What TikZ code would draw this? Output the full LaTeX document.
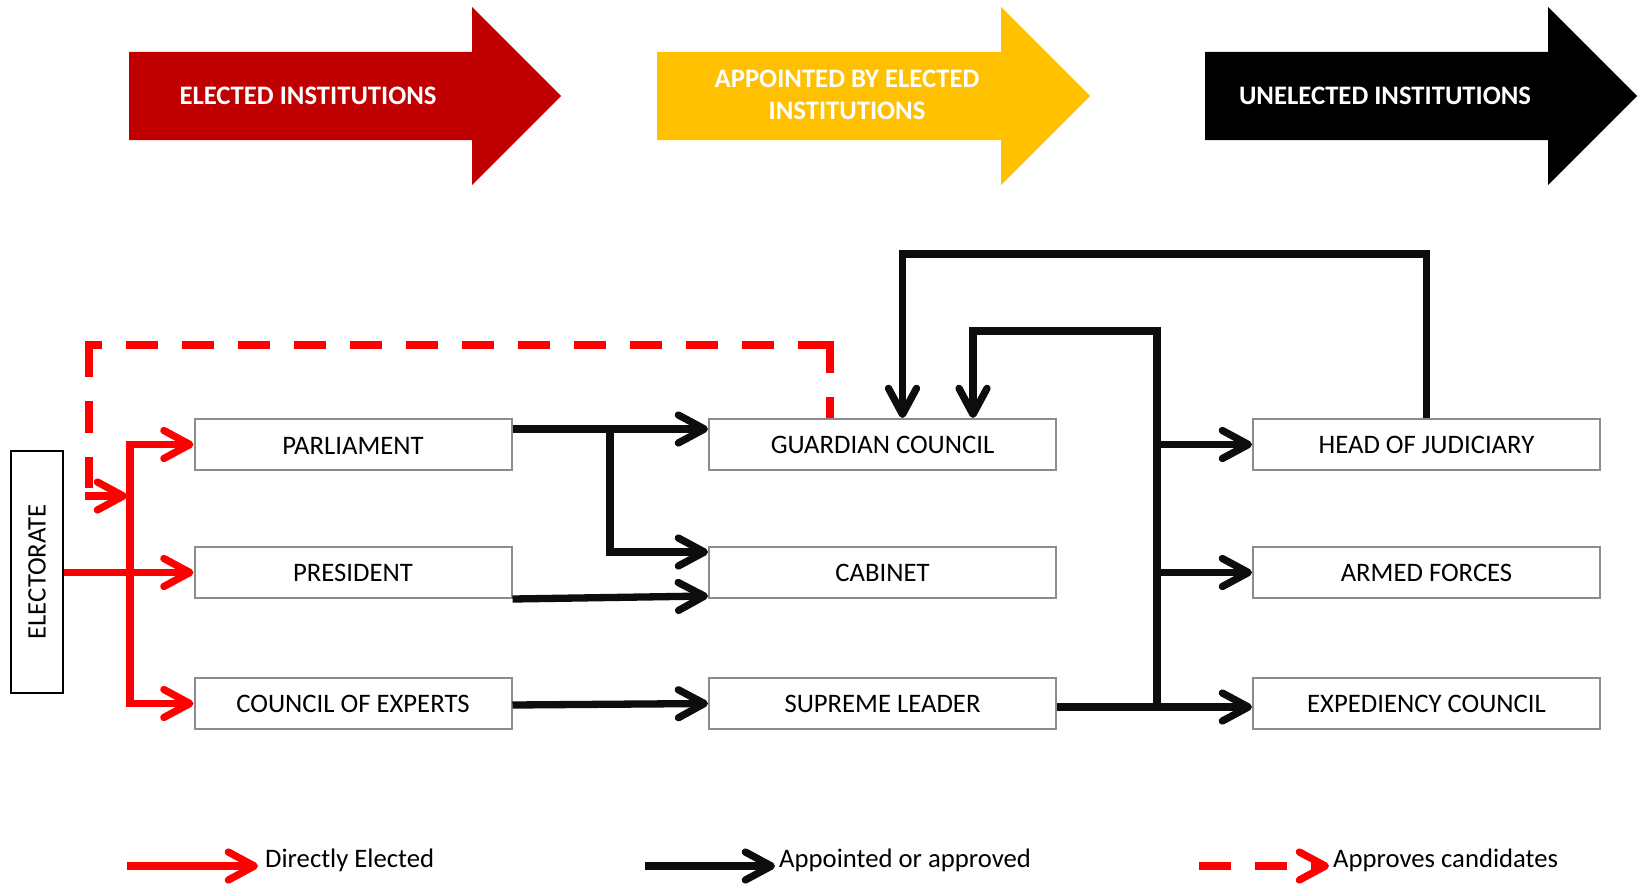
\documentclass[tikz,border=0pt]{standalone}
\usepackage{fontspec}
\setmainfont{Carlito}
\usetikzlibrary{arrows.meta}
\definecolor{hdred}{HTML}{C00000}
\definecolor{hdyel}{HTML}{FFC000}
\definecolor{boxgray}{HTML}{8C8C8C}
\definecolor{lnblack}{HTML}{0D0D0D}
\definecolor{lnred}{HTML}{FF0000}
\newcommand\lblfont{\fontsize{26.7}{31.5}\selectfont}
\begin{document}
\begin{tikzpicture}[x=1pt,y=-1pt,
  arr/.tip={Straight Barb[length=26pt,width=28pt,round]},
  inst/.style={draw=boxgray,line width=2pt,fill=white,minimum width=317pt,minimum height=51pt,inner sep=0pt,text height=19pt,font=\lblfont},
  instw/.style={inst,minimum width=347pt},
  hdtxt/.style={text=white,font=\lblfont\bfseries,inner sep=0pt,align=center},
  rl/.style={draw=lnred,line width=7.3pt},
  rdash/.style={rl,dash pattern=on 32pt off 24pt},
  bl/.style={draw=lnblack,line width=7.3pt},
  legtxt/.style={anchor=base west,inner sep=0pt,font=\lblfont}]
\useasboundingbox (0,0) rectangle (1640,883);
\fill[white] (0,0) rectangle (1640,883);

% header arrows
\fill[hdred] (129,52) -- (472,52) -- (472,7) -- (561,96) -- (472,185) -- (472,140) -- (129,140) -- cycle;
\node[hdtxt] (h1) at (308,96) {ELECTED INSTITUTIONS};
\fill[hdyel] (657,52) -- (1001,52) -- (1001,7) -- (1090,96) -- (1001,185) -- (1001,140) -- (657,140) -- cycle;
\node[hdtxt] (h2) at (847,95) {APPOINTED BY ELECTED\\INSTITUTIONS};
\fill[black] (1205,52) -- (1548,52) -- (1548,7) -- (1637,96) -- (1548,185) -- (1548,140) -- (1205,140) -- cycle;
\node[hdtxt] (h3) at (1385,96) {UNELECTED INSTITUTIONS};

% institutions
\node[inst] (parl) at (353,444.5) {PARLIAMENT};
\node[inst] (pres) at (353,572.5) {PRESIDENT};
\node[inst] (coe) at (353,703.5) {COUNCIL OF EXPERTS};
\node[instw] (gc) at (882.5,444.5) {GUARDIAN COUNCIL};
\node[instw] (cab) at (882.5,572.5) {CABINET};
\node[instw] (sl) at (882.5,703.5) {SUPREME LEADER};
\node[instw] (hj) at (1426.5,444.5) {HEAD OF JUDICIARY};
\node[instw] (af) at (1426.5,572.5) {ARMED FORCES};
\node[instw] (ec) at (1426.5,703.5) {EXPEDIENCY COUNCIL};
\node[draw=black,line width=2pt,rotate=90,minimum width=242pt,minimum height=51.7pt,inner sep=0pt,font=\lblfont] (elec) at (37,571.7) {ELECTORATE};

% red: directly elected
\coordinate (tx) at (130,0);
\draw[rl,arr-arr] (parl.west) -- (parl.west -| tx) -- (coe.west -| tx) -- (coe.west);
\draw[rl,-arr] (elec.south |- pres.west) -- (pres.west);

% red dashed: approves candidates
\coordinate (dA) at (830,341.35);
\coordinate (dTl) at (85.35,345);
\coordinate (dTr) at (830,345);
\coordinate (dB) at (89,345);
\coordinate (dC) at (89,488);
\coordinate (dE) at (85.35,496);
\coordinate (dD) at (127,496);
\draw[rdash] (dA) -- (gc.north -| dA);
\draw[rdash,dash phase=15.65pt] (dTl) -- (dTr);
\draw[rdash] (dB) -- (dC);
\draw[rl,-arr] (dE) -- (dD);

% black: appointed or approved
\coordinate (ya) at (0,429);
\coordinate (bx) at (610,552);
\coordinate (yc) at (0,596);
\draw[bl,-arr] (parl.east |- ya) -- (gc.west |- ya);
\draw[bl,-arr] (610,426) -- (bx) -- (cab.west |- bx);
\draw[bl,-arr] (pres.south east) -- (cab.west |- yc);
\draw[bl,-arr] ([yshift=-1.5pt]coe.east) -- (sl.west);

\coordinate (je) at (1157,707);
\coordinate (t2) at (973,331);
\coordinate (t1) at (902.5,254);
\draw[bl,-arr] (sl.east |- je) -- (ec.west |- je);
\draw[bl,-arr] (je) -- (je |- t2) -- (t2) -- (gc.north -| t2);
\draw[bl,-arr] (je |- hj.west) -- (hj.west);
\draw[bl,-arr] (je |- af.west) -- (af.west);
\draw[bl,-arr] (hj.north) -- (hj.north |- t1) -- (t1) -- (gc.north -| t1);

% legend
\coordinate (la1) at (127,866);
\coordinate (la2) at (258,866);
\coordinate (lb1) at (645,866);
\coordinate (lb2) at (775,866);
\coordinate (lc1) at (1199,866);
\coordinate (lc2) at (1329,866);
\draw[rl,-arr] (la1) -- (la2);
\node[legtxt] (lt1) at (265,867) {Directly Elected};
\draw[bl,-arr] (lb1) -- (lb2);
\node[legtxt] (lt2) at (779,867) {Appointed or approved};
\draw[rdash,-arr] (lc1) -- (lc2);
\node[legtxt] (lt3) at (1333,867) {Approves candidates};
\end{tikzpicture}
\end{document}
